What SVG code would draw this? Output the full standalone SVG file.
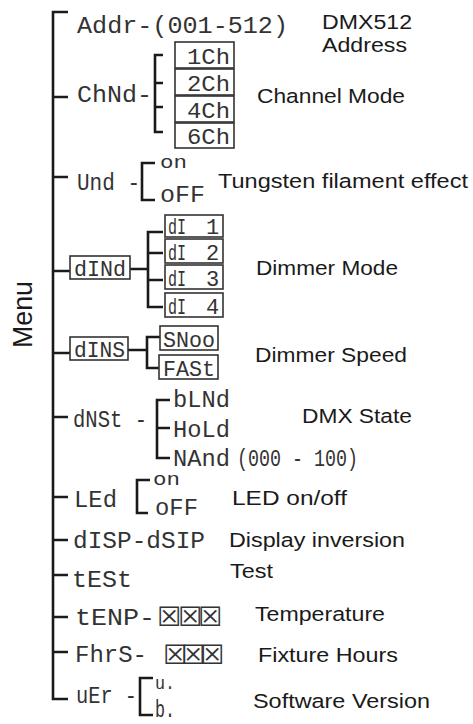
<svg xmlns="http://www.w3.org/2000/svg" width="473" height="724" viewBox="0 0 473 724">
<style>
.seg{font-family:"Liberation Mono","DejaVu Sans Mono",monospace;font-size:24px;fill:#333}
.sm{font-size:22px}
.lo{font-size:19px}
.lbl{font-family:"Liberation Sans",Arial,sans-serif;font-size:20.5px;fill:#1a1a1a}
.box{fill:#fff;stroke:#333;stroke-width:1.6}
.ln{fill:none;stroke:#1a1a1a;stroke-width:2.6}
.sym{font-family:"DejaVu Sans",sans-serif;font-size:27px;fill:#333}
</style>
<rect width="473" height="724" fill="#fff"/>
<g id="connectors" class="ln">
<path d="M68,12 H53 V699 H68"/>
<path d="M53,97 H68 M53,177 H68 M53,271 H70 M53,353 H70 M53,417 H68 M53,497 H68 M53,540 H68 M53,575 H68 M53,617 H68 M53,652 H68"/>
<path d="M163,55 H155 V132 H163 M155,83 H163 M155,107 H163"/>
<path d="M155,163 H142 V200 H155"/>
<path d="M130,269 H148 M163,232 H148 V307 H163 M148,253 H163 M148,280 H163"/>
<path d="M128,350 H147 M160,337 H147 V368 H160"/>
<path d="M170,400 H157 V458 H170 M157,428 H170"/>
<path d="M150,480 H137 V513 H148"/>
<path d="M153,678 H140 V715 H153"/>
</g>
<g id="menu"><text class="lbl" transform="translate(32,348) rotate(-90)" style="font-size:28px" textLength="67" lengthAdjust="spacingAndGlyphs">Menu</text></g>
<g id="addr">
<text class="seg" x="77" y="33" textLength="211" lengthAdjust="spacingAndGlyphs">Addr-(001-512)</text>
<text class="lbl" x="322" y="29" textLength="90" lengthAdjust="spacingAndGlyphs">DMX512</text>
<text class="lbl" x="322" y="52" textLength="85" lengthAdjust="spacingAndGlyphs">Address</text>
</g>
<g id="chnd">
<text class="seg" x="77" y="102" textLength="75" lengthAdjust="spacingAndGlyphs">ChNd-</text>
<text class="lbl" x="257" y="103" textLength="148" lengthAdjust="spacingAndGlyphs">Channel Mode</text>
</g>
<g id="ch1"><rect class="box" x="175" y="42" width="59" height="26"/><text class="seg sm" x="187" y="64" textLength="43" lengthAdjust="spacingAndGlyphs">1Ch</text></g>
<g id="ch2"><rect class="box" x="175" y="69" width="59" height="26"/><text class="seg sm" x="187" y="91" textLength="43" lengthAdjust="spacingAndGlyphs">2Ch</text></g>
<g id="ch4"><rect class="box" x="175" y="96" width="59" height="26"/><text class="seg sm" x="187" y="118" textLength="43" lengthAdjust="spacingAndGlyphs">4Ch</text></g>
<g id="ch6"><rect class="box" x="175" y="123" width="59" height="25"/><text class="seg sm" x="187" y="144" textLength="43" lengthAdjust="spacingAndGlyphs">6Ch</text></g>
<g id="und">
<text class="seg" x="77" y="190" textLength="63" lengthAdjust="spacingAndGlyphs">Und -</text>
<text class="seg lo" x="160" y="168" textLength="27" lengthAdjust="spacingAndGlyphs">on</text>
<text class="seg" x="160" y="202" textLength="45" lengthAdjust="spacingAndGlyphs">oFF</text>
<text class="lbl" x="218" y="188" textLength="250" lengthAdjust="spacingAndGlyphs">Tungsten filament effect</text>
</g>
<g id="dind">
<rect class="box" x="70" y="256" width="60" height="23"/>
<text class="seg sm" x="74" y="276" textLength="52" lengthAdjust="spacingAndGlyphs">dINd</text>
<text class="lbl" x="256" y="275" textLength="142" lengthAdjust="spacingAndGlyphs">Dimmer Mode</text>
</g>
<g id="di1"><rect class="box" x="165" y="215" width="58" height="22"/><text class="seg sm" x="168" y="234"><tspan textLength="18" lengthAdjust="spacingAndGlyphs">dI</tspan> <tspan x="206">1</tspan></text></g>
<g id="di2"><rect class="box" x="165" y="239" width="58" height="24"/><text class="seg sm" x="168" y="260"><tspan textLength="18" lengthAdjust="spacingAndGlyphs">dI</tspan> <tspan x="206">2</tspan></text></g>
<g id="di3"><rect class="box" x="165" y="265" width="58" height="24"/><text class="seg sm" x="168" y="286"><tspan textLength="18" lengthAdjust="spacingAndGlyphs">dI</tspan> <tspan x="206">3</tspan></text></g>
<g id="di4"><rect class="box" x="165" y="293" width="58" height="24"/><text class="seg sm" x="168" y="314"><tspan textLength="18" lengthAdjust="spacingAndGlyphs">dI</tspan> <tspan x="206">4</tspan></text></g>
<g id="dins">
<rect class="box" x="70" y="337" width="58" height="23"/>
<text class="seg sm" x="74" y="357" textLength="51" lengthAdjust="spacingAndGlyphs">dINS</text>
<text class="lbl" x="255" y="362" textLength="152" lengthAdjust="spacingAndGlyphs">Dimmer Speed</text>
</g>
<g id="snoo"><rect class="box" x="160" y="326" width="58" height="24"/><text class="seg sm" x="163" y="347" textLength="52" lengthAdjust="spacingAndGlyphs">SNoo</text></g>
<g id="fast"><rect class="box" x="159" y="355" width="59" height="24"/><text class="seg sm" x="163" y="376" textLength="52" lengthAdjust="spacingAndGlyphs">FASt</text></g>
<g id="dnst">
<text class="seg" x="73" y="427" textLength="74" lengthAdjust="spacingAndGlyphs">dNSt -</text>
<text class="seg" x="173" y="407" textLength="57" lengthAdjust="spacingAndGlyphs">bLNd</text>
<text class="seg" x="173" y="437" textLength="57" lengthAdjust="spacingAndGlyphs">HoLd</text>
<text class="seg" x="173" y="466" textLength="57" lengthAdjust="spacingAndGlyphs">NAnd</text>
<text class="seg" x="237" y="466" textLength="121" lengthAdjust="spacingAndGlyphs">(000 - 100)</text>
<text class="lbl" x="302" y="423" textLength="110" lengthAdjust="spacingAndGlyphs">DMX State</text>
</g>
<g id="led">
<text class="seg" x="74" y="507" textLength="43" lengthAdjust="spacingAndGlyphs">LEd</text>
<text class="seg lo" x="153" y="485" textLength="27" lengthAdjust="spacingAndGlyphs">on</text>
<text class="seg" x="155" y="515" textLength="43" lengthAdjust="spacingAndGlyphs">oFF</text>
<text class="lbl" x="232" y="505" textLength="115" lengthAdjust="spacingAndGlyphs">LED  on/off</text>
</g>
<g id="disp">
<text class="seg" x="73" y="548" textLength="132" lengthAdjust="spacingAndGlyphs">dISP-dSIP</text>
<text class="lbl" x="229" y="547" textLength="176" lengthAdjust="spacingAndGlyphs">Display inversion</text>
</g>
<g id="test">
<text class="seg" x="72" y="587" textLength="60" lengthAdjust="spacingAndGlyphs">tESt</text>
<text class="lbl" x="230" y="578" textLength="43" lengthAdjust="spacingAndGlyphs">Test</text>
</g>
<g id="temp">
<text class="seg" x="75" y="625" textLength="80" lengthAdjust="spacingAndGlyphs">tENP-</text>
<text class="sym" x="157 178 198" y="626">☒☒☒</text>
<text class="lbl" x="255" y="621" textLength="130" lengthAdjust="spacingAndGlyphs">Temperature</text>
</g>
<g id="fhrs">
<text class="seg" x="75" y="662" textLength="72" lengthAdjust="spacingAndGlyphs">FhrS-</text>
<text class="sym" x="163 181 200" y="664">☒☒☒</text>
<text class="lbl" x="258" y="662" textLength="140" lengthAdjust="spacingAndGlyphs">Fixture Hours</text>
</g>
<g id="ver">
<text class="seg" x="76" y="703" textLength="61" lengthAdjust="spacingAndGlyphs">uEr -</text>
<text class="seg lo" x="155" y="689" textLength="20" lengthAdjust="spacingAndGlyphs">u.</text>
<text class="seg" x="155" y="717" textLength="20" lengthAdjust="spacingAndGlyphs">b.</text>
<text class="lbl" x="253" y="708" textLength="177" lengthAdjust="spacingAndGlyphs">Software Version</text>
</g>
</svg>
